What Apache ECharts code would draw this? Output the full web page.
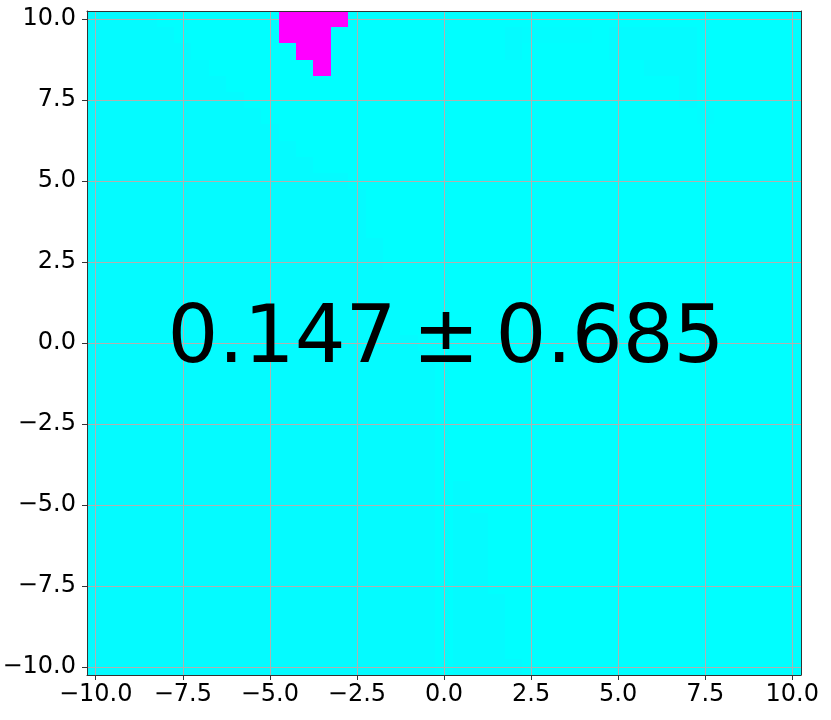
<!DOCTYPE html>
<html><head><meta charset="utf-8">
<script src="https://cdn.jsdelivr.net/npm/echarts@6/dist/echarts.min.js"></script>
<style>html,body{margin:0;padding:0;background:#fff}#c{width:831px;height:720px}</style>
</head><body><div id="c"></div>
<script>
// ---- data ----
const xCells = [-10,-9.5,-9,-8.5,-8,-7.5,-7,-6.5,-6,-5.5,-5,-4.5,-4,-3.5,-3,-2.5,-2,-1.5,-1,-0.5,0,0.5,1,1.5,2,2.5,3,3.5,4,4.5,5,5.5,6,6.5,7,7.5,8,8.5,9,9.5,10];
const yCells = [10,9.5,9,8.5,8,7.5,7,6.5,6,5.5,5,4.5,4,3.5,3,2.5,2,1.5,1,0.5,0,-0.5,-1,-1.5,-2,-2.5,-3,-3.5,-4,-4.5,-5,-5.5,-6,-6.5,-7,-7.5,-8,-8.5,-9,-9.5,-10];
const xTicks = [-10,-7.5,-5,-2.5,0,2.5,5,7.5,10];
const yTicks = [-10,-7.5,-5,-2.5,0,2.5,5,7.5,10];
// cell level codes (row 0 = top, y = 10)
const levelValues = {'0':0, '1':0.008, '2':0.016, 'M':1};
const rows = [
"2222000000 0MMMM00000 0000000000 0000000000 0",
"2222200000 0MMM000000 0000211110 2222200000 0",
"2222220000 00MM000000 0000200000 2222200000 0",
"2222222000 000M000000 0000000000 0022200000 0",
"2222222200 0000000000 0000000000 0000200000 0",
"2222222220 0000000000 0000000000 0000200000 0",
"2222222222 0000000000 0000000000 0000010000 0",
"2222222222 2000000000 0000000000 0000000000 0",
"2222222222 2200000000 0000000000 0000000000 0",
"2222222222 2220000000 0000000000 0000000000 0",
"2222222222 2222200000 0000000000 0000000000 0",
"2222222222 2222220000 0000000000 0000000000 0",
"2222222222 2222220000 0000000000 0000000000 0",
"2222222222 2222220000 0000000000 0000000000 0",
"2222222222 2222222000 0000000000 0000000000 0",
"2222222222 2222222000 0000000000 0000000000 0",
"2222222222 2222222200 0000000000 0000000000 0",
"2222222222 2222222200 0000000000 0000000000 0",
"2222222222 2222222200 0000000000 0000000000 0",
"2222222222 2222222200 0000000000 0000000000 0",
"2222222222 2222222220 0000000000 0000000000 0",
"2222222222 2222222222 0000000000 0000000000 0",
"2222222222 2222222222 0000000000 0000000000 0",
"2222222222 2222222222 0000000000 0000000000 0",
"2222222222 2222222222 0000000000 0000000000 0",
"2222222222 2222222222 0000000000 0000000000 0",
"2222222222 2222222222 0000000000 0000000000 0",
"2222222222 2222222222 0000000000 0000000000 0",
"2222222222 2222222222 0000000000 0000000000 0",
"2222222222 2222222222 0200000000 0000000000 0",
"2222222222 2222222222 0200000000 0000000000 0",
"2222222222 2222222222 0220000000 0000000000 0",
"2222222222 2222222222 0220000000 0000000000 0",
"2222222222 2222222222 0220000000 0000000000 0",
"2222222222 2222222222 0220000000 0000000000 0",
"2222222222 2222222222 0220000000 0000000000 0",
"2222222222 2222222222 0222000000 0000000000 0",
"2222222222 2222222222 0222000000 0000000000 0",
"2222222222 2222222222 0222000000 0000000000 0",
"2222222222 2222222222 0222000000 0000000000 0",
"2222222222 2222222222 0222200000 0000000000 0"
];
const annotation = '0.147\u2009\u00b1\u20090.685';

// ---- build ----
const cells = [];
const topCells = [];
rows.forEach((row, r) => {
  row.replace(/ /g, '').split('').forEach((ch, c) => {
    const item = [xCells[c], yCells[r], levelValues[ch]];
    cells.push(item);
    if (ch === 'M') topCells.push(item);
  });
});
const half = (xCells[1] - xCells[0]) / 2;
const xMin = xCells[0] - half, xMax = xCells[xCells.length - 1] + half;
const yMin = yCells[yCells.length - 1] - half, yMax = yCells[0] + half;

function renderCell(params, api) {
  const x = api.value(0), y = api.value(1);
  const a = api.coord([x - half, y + half]);
  const b = api.coord([x + half, y - half]);
  const x0 = Math.round(a[0]), y0 = Math.round(a[1]);
  const x1 = Math.round(b[0]), y1 = Math.round(b[1]);
  return { type: 'rect', shape: { x: x0, y: y0, width: x1 - x0, height: y1 - y0 },
           style: { fill: api.visual('color') } };
}
const fmt = v => v.toFixed(1).replace('-', '\u2212');
const font = 'DejaVu Sans';
const lineCol = '#333';

const chart = echarts.init(document.getElementById('c'), null, { renderer: 'canvas' });
const mainAxis = (pos, ticks, mn, mx, margin) => ({
  type: 'value', position: pos, min: mn, max: mx, splitNumber: 10, minInterval: 2.5, z: 3,
  axisLine: { show: true, onZero: false, lineStyle: { color: lineCol, width: 1 } },
  axisTick: { show: true, customValues: ticks, length: 5, inside: false, lineStyle: { color: lineCol, width: 1 } },
  axisLabel: { show: true, customValues: ticks, formatter: fmt, fontSize: 24, fontFamily: font, color: '#000', margin: margin },
  splitLine: { show: true, lineStyle: { color: '#b0b0b0', width: 1 } }
});
const frameAxis = (pos, mn, mx) => ({
  type: 'value', position: pos, min: mn, max: mx, z: 5,
  axisLine: { show: true, onZero: false, lineStyle: { color: lineCol, width: 1 } },
  axisTick: { show: false }, axisLabel: { show: false }, splitLine: { show: false }
});
chart.setOption({
  animation: false,
  backgroundColor: '#ffffff',
  grid: { left: 87, top: 11, right: 30, bottom: 45, containLabel: false, outerBoundsMode: 'none' },
  xAxis: [ mainAxis('bottom', xTicks, xMin, xMax, 8), frameAxis('top', xMin, xMax) ],
  yAxis: [ mainAxis('left', yTicks, yMin, yMax, 11), frameAxis('right', yMin, yMax) ],
  visualMap: { show: false, type: 'continuous', min: 0, max: 1, dimension: 2, seriesIndex: [0, 1],
               inRange: { color: ['#00ffff', '#ff00ff'] } },
  series: [
    { type: 'custom', name: 'cells', xAxisIndex: 0, yAxisIndex: 0, z: 2, silent: true,
      encode: { x: 0, y: 1 }, renderItem: renderCell, data: cells },
    { type: 'custom', name: 'peak', xAxisIndex: 0, yAxisIndex: 0, z: 4, silent: true,
      encode: { x: 0, y: 1 }, renderItem: renderCell, data: topCells }
  ]
});
const center = chart.convertToPixel({ gridIndex: 0 }, [0, 0]);
chart.setOption({
  graphic: [{ type: 'text', z: 10, x: center[0] + 2, y: center[1] - 2,
    style: { text: annotation, fontSize: 80, fontFamily: font, fill: '#000',
             textAlign: 'center', textVerticalAlign: 'middle' } }]
});
</script>
</body></html>
